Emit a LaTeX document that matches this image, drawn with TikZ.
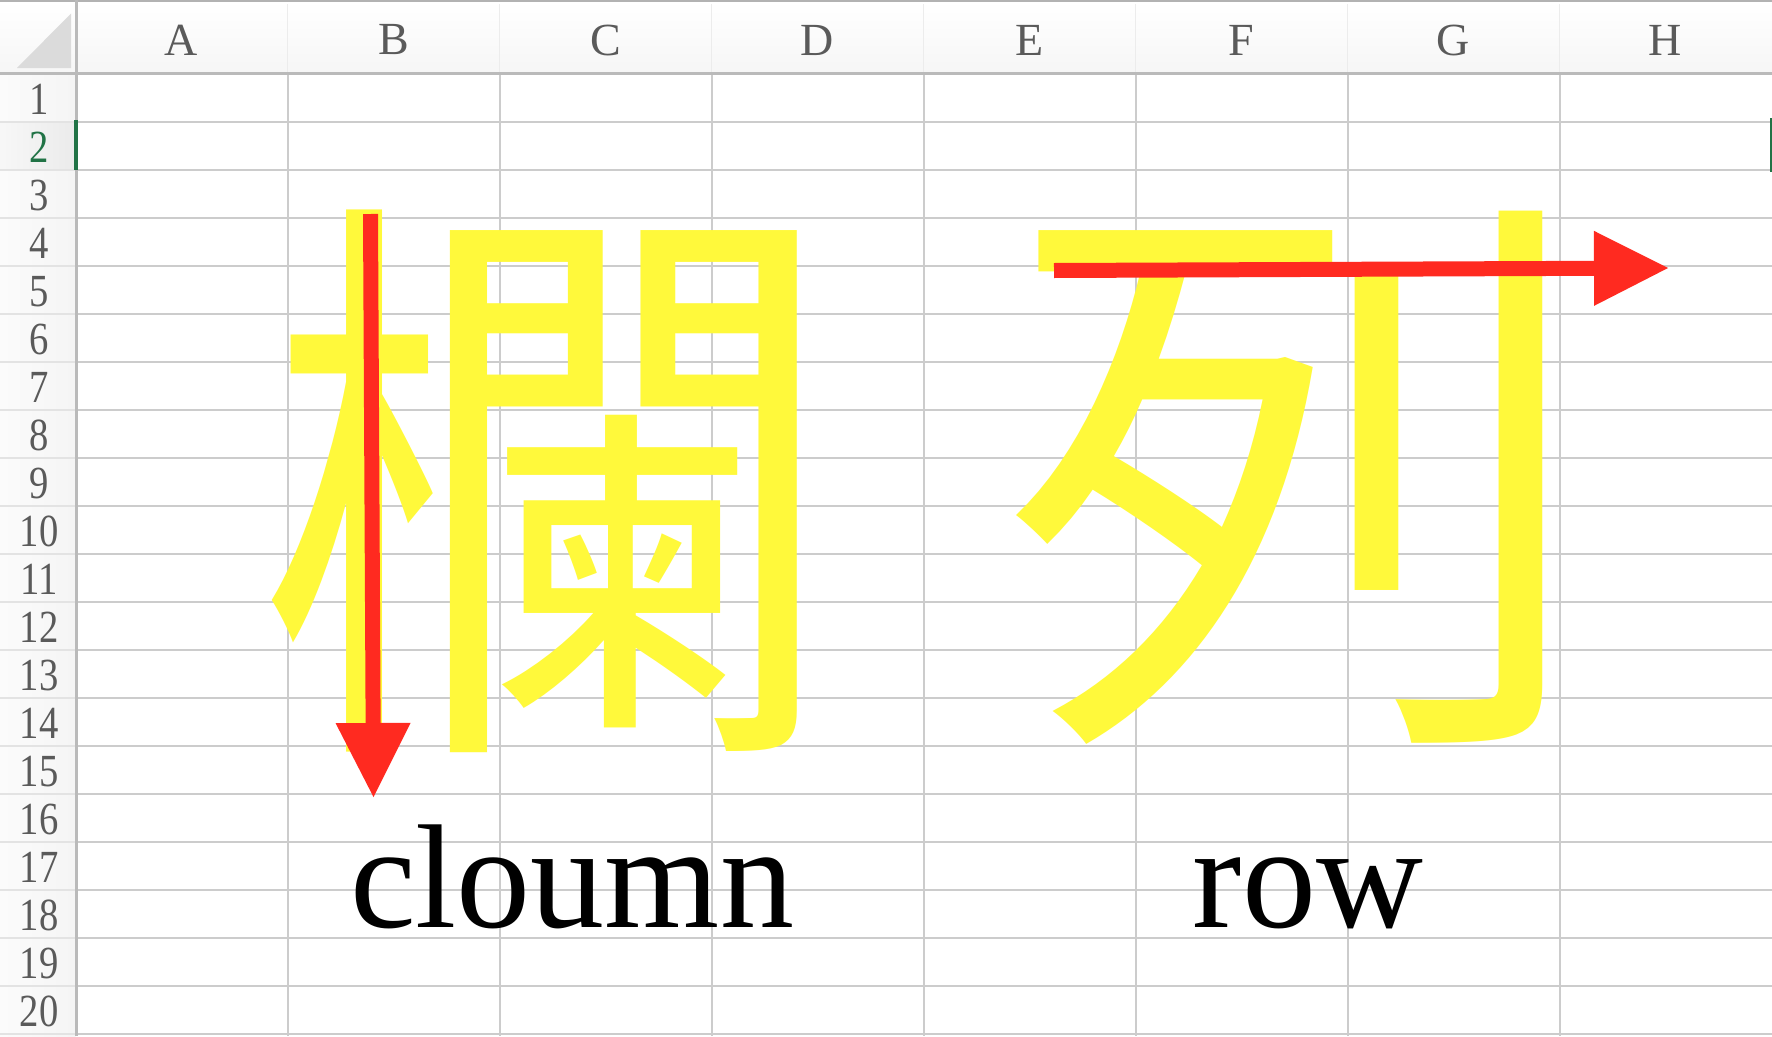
\documentclass[tikz,border=0pt]{standalone}
\usepackage{fontspec}
\setmainfont{Liberation Serif}
\newfontfamily\rowfont[FakeStretch=0.84]{Liberation Serif}
\newfontfamily\cjk{Noto Sans CJK TC}
\usetikzlibrary{arrows.meta, positioning, calc}
\definecolor{gridgray}{RGB}{204,204,204}
\definecolor{hdrgray}{RGB}{186,186,186}
\definecolor{labelgray}{RGB}{90,90,90}
\definecolor{selgreen}{RGB}{33,115,70}
\definecolor{charyellow}{RGB}{255,249,59}
\definecolor{arrowred}{RGB}{255,42,32}

\begin{document}
\begin{tikzpicture}[
    x=1pt, y=-1pt,
    gridline/.style={draw=gridgray, line width=2pt},
    hdrline/.style={draw=hdrgray, line width=2.4pt},
    collabel/.style={text=labelgray, font=\fontsize{46}{46}\selectfont, inner sep=0pt},
    rowlabel/.style={text=labelgray, font=\rowfont\fontsize{46}{46}\selectfont, inner sep=0pt},
    bigchar/.style={text=charyellow, font=\cjk\fontsize{590}{590}\selectfont, inner sep=0pt},
    caption/.style={text=black, font=\fontsize{148}{148}\selectfont, inner sep=0pt, anchor=base},
    redarrow/.style={draw=arrowred, line width=15pt, -{Triangle[width=75pt, length=74pt, line width=0pt]}}
]
    \useasboundingbox (0,0) rectangle (1772,1036);

    % sheet background
    \fill[white] (0,0) rectangle (1772,1036);
    \shade[top color=white, bottom color=gray!7] (0,0) rectangle (1772,73.5);
    \shade[left color=gray!3, right color=gray!8] (0,73.5) rectangle (75.5,1036);
    \shade[left color=gray!6, right color=gray!16] (0,121.5) rectangle (75.5,169.5);
    \fill[gray!28] (17,68) -- (71,68) -- (71,13.5) -- cycle;

    % grid
    \foreach \k in {1,...,20} {
        \draw[gridline] (75.5,{73.5+48*\k}) -- (1772,{73.5+48*\k});
        \draw[draw=gray!22, line width=2pt] (0,{73.5+48*\k}) -- (75.5,{73.5+48*\k});
    }
    \foreach \j in {1,...,7} {
        \draw[gridline] ({75.5+212*\j},73.5) -- ({75.5+212*\j},1036);
        \draw[draw=gray!15, line width=1.6pt] ({75.5+212*\j},4) -- ({75.5+212*\j},73.5);
    }
    \draw[draw=gray!60, line width=2.4pt] (0,1.2) -- (1772,1.2);
    \draw[hdrline] (0,73.5) -- (1772,73.5);
    \draw[hdrline] (76.5,0) -- (76.5,1036);

    % headers
    \foreach \c [count=\i from 0] in {A,B,C,D,E,F,G,H}
        \node[collabel] (col\c) at ({181.5+212*\i},40) {\c};
    \foreach \r in {1,3,4,...,20}
        \node[rowlabel] (row\r) at (39,{51.5+48*\r}) {\r};
    \node[rowlabel, text=selgreen] (row2) at (39,147.5) {2};

    % characters
    \node[bigchar] (lan) at (549,481) {欄};
    \node[bigchar] (lie) at (1298,478) {列};

    % arrows
    \coordinate (downstart) at (370.5,214);
    \coordinate (downend) at (373.5,797);
    \draw[redarrow] (downstart) -- (downend);
    \coordinate (rightstart) at (1054,270.5);
    \coordinate (rightend) at (1668,268);
    \draw[redarrow] (rightstart) -- (rightend);

    \node[caption] (colword) at (572,927) {cloumn};
    \node[caption] (rowword) at (1308,927) {row};

    % selected row
    \fill[selgreen] (74,120) rectangle (78,170);
    \fill[selgreen] (1769.5,118) rectangle (1772,172);
\end{tikzpicture}
\end{document}
